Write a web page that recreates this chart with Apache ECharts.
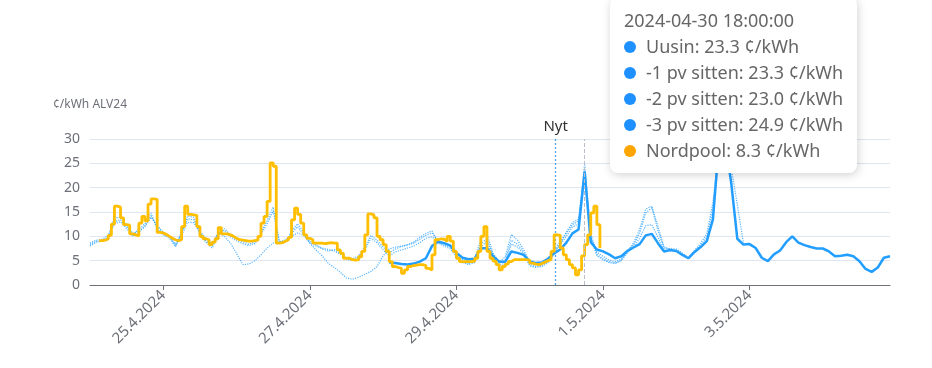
<!DOCTYPE html>
<html>
<head>
<meta charset="utf-8">
<script src="https://cdn.jsdelivr.net/npm/echarts@6/dist/echarts.min.js"></script>
<style>
html,body{margin:0;padding:0;background:#fff;}
#main{width:932px;height:368px;position:relative;}
</style>
</head>
<body>
<div id="main"></div>
<script>
// ---- data (hours counted from 24.4.2024 00:00) ----
const baseDate = [2024, 3, 24];
const yAxisName = '¢/kWh ALV24';
const nowHour = 152.5;
const tooltipHour = 162;
const axisMaxHour = 262;

const seriesNames = ['Uusin', '-1 pv sitten', '-2 pv sitten', '-3 pv sitten', 'Nordpool'];

// Nordpool hourly, from hour 3
const nordpoolStart = 3;
const nordpool = [
  9.1,9.2,9.5,10.2,12.5,16.2,16.0,13.8,12.4,12.3,
  10.5,10.3,10.1,12.7,14.1,13.2,16.6,17.7,17.6,10.8,
  10.7,10.4,10.0,9.6,9.3,9.1,9.3,12.0,16.2,14.5,
  14.4,14.3,12.0,10.0,9.5,9.3,8.3,8.8,9.5,11.8,
  10.5,10.5,10.3,10.0,9.6,9.3,9.2,9.1,9.0,9.0,
  9.1,9.2,10.0,12.7,14.1,17.2,25.1,24.4,8.6,8.7,
  9.0,9.3,9.8,13.4,15.8,14.5,12.7,10.3,9.6,9.3,
  8.6,8.6,8.6,8.5,8.6,8.7,8.6,8.6,7.2,6.5,
  5.5,5.5,5.2,5.1,5.2,5.8,6.9,10.3,14.6,14.4,
  13.8,10.0,9.3,8.3,6.9,4.8,3.8,3.6,3.4,2.4,
  3.1,3.8,4.0,4.1,4.2,4.2,4.0,3.4,3.1,6.2,
  9.3,9.5,9.4,9.0,10.0,9.0,6.9,5.5,4.8,4.8,
  4.8,4.8,4.9,5.5,6.9,10.0,12.0,6.9,5.5,4.9,
  4.2,3.1,3.8,4.3,4.8,5.2,5.2,5.2,5.2,5.2,
  5.1,4.5,4.3,4.2,4.4,4.7,5.0,5.2,6.9,10.3,
  10.2,7.6,6.2,5.2,4.2,3.5,2.1,3.1,6.0,8.3,
  10.3,14.8,16.2,12.4,7.6
];

// Forecasts, every 2 hours
const uusinStart = 98;
const uusin = [
  4.6,4.5,4.3,4.2,4.4,4.8,5.5,8.0,8.9,8.6,
  8.1,6.6,5.6,5.3,5.4,7.5,7.6,5.9,4.8,4.8,
  6.9,6.6,6.2,4.9,4.5,4.6,5.4,6.5,7.3,8.7,
  10.6,11.4,23.3,8.8,7.3,6.9,6.3,5.5,5.9,7.0,
  7.7,8.4,10.2,10.5,8.6,6.9,7.2,7.0,6.2,5.5,
  6.8,7.8,9.0,13.5,29.0,29.5,21.0,9.5,8.3,8.4,
  7.6,5.6,4.9,6.3,7.1,8.8,10.0,8.7,8.2,7.8,
  7.5,7.5,6.9,5.9,6.0,6.2,5.9,4.9,3.3,2.7,
  3.6,5.6,5.9
];
const pv1Start = 0;
const pv1 = [
  8.3,9.0,9.1,9.8,13.0,13.4,12.0,10.3,11.5,12.6,
  14.8,11.5,10.3,9.6,7.9,11.0,13.6,13.4,10.3,8.8,
  7.6,10.2,11.6,10.3,9.5,8.9,8.4,8.8,10.8,13.2,
  16.0,9.0,8.8,11.0,12.6,10.8,9.0,8.3,7.4,7.0,
  7.3,6.6,5.6,5.4,6.0,7.8,10.2,9.2,7.8,6.6,
  7.4,7.9,8.2,8.6,9.4,10.2,10.7,9.2,8.6,8.2,
  6.5,5.3,4.9,5.6,9.3,10.6,6.5,4.7,5.8,10.4,
  9.2,7.3,4.6,4.1,4.4,5.4,7.3,8.8,10.9,12.8,
  13.6,23.3,10.5,6.8,5.9,5.1,4.8,5.3,7.0,8.3,
  10.6,14.8,15.9,11.2,7.6,7.5,7.4,6.6,5.6,7.1,
  8.6,10.5,17.0,28.0,29.0,24.0,16.5,8.6
];
const pv2Start = 0;
const pv2 = [
  8.6,9.2,9.4,10.2,13.8,13.9,12.4,10.6,11.0,12.2,
  14.2,12.0,10.6,9.9,8.4,10.6,14.2,13.9,10.8,9.1,
  8.0,10.6,11.2,9.9,9.1,8.5,8.1,8.5,10.4,12.6,
  15.2,8.7,9.0,10.6,12.0,10.3,8.7,8.0,7.6,7.3,
  7.0,6.3,5.3,5.0,5.8,7.2,9.6,8.7,7.2,6.0,
  6.8,7.2,7.6,8.0,8.7,9.6,9.9,8.8,8.2,7.8,
  6.1,4.9,4.4,5.0,8.4,9.6,6.0,4.2,5.2,9.2,
  8.4,6.8,4.2,3.8,4.0,5.0,6.8,8.2,10.0,11.9,
  12.6,23.0,9.6,6.3,5.4,4.8,4.5,5.0,6.6,7.9,
  9.6,12.2,12.4,9.8,7.2,7.0,7.0,6.3,5.3,6.8,
  8.2,9.8,15.5,27.0
];
const pv3Start = 0;
const pv3 = [
  8.0,8.8,9.0,9.6,12.6,13.0,11.6,10.0,10.8,12.0,
  13.9,12.2,10.9,10.1,8.0,10.2,12.9,12.8,11.0,9.6,
  8.4,10.9,10.0,8.6,6.5,4.2,4.3,5.0,6.2,7.6,
  8.6,8.8,9.3,10.0,10.7,10.2,8.6,7.2,6.0,4.5,
  3.6,2.6,1.4,1.2,1.6,2.2,2.8,3.8,6.0,7.4,
  7.8,8.0,8.3,8.8,9.8,10.6,11.1,8.6,8.0,7.4,
  5.8,4.6,4.2,4.6,7.8,9.0,5.6,3.9,4.6,8.4,
  7.8,6.4,3.9,3.6,3.8,4.6,6.4,8.6,10.6,12.4,
  13.2,24.9,9.8,6.0,5.2,4.6,4.4,5.1,6.9,8.6,
  11.4,15.6,16.2,12.0,7.8,7.3
];

// ---- build ----
const HOUR = 3600000;
const T0 = new Date(baseDate[0], baseDate[1], baseDate[2], 0, 0, 0).getTime();
function toSeries(start, step, arr) {
  return arr.map((v, i) => [T0 + (start + i * step) * HOUR, v]);
}
const BLUE = '#1E90FF';
const ORANGE = '#FFA500';
const ORANGE_LINE = '#FFAD00';
const colorOf = {'Uusin': BLUE, '-1 pv sitten': BLUE, '-2 pv sitten': BLUE, '-3 pv sitten': BLUE, 'Nordpool': ORANGE};
const FONT = 'Noto Sans';

function pad(n){ return (n < 10 ? '0' : '') + n; }

const dottedStyle = {color: BLUE, width: 1.2, type: 'dotted', opacity: 0.75};

const chart = echarts.init(document.getElementById('main'), null, {renderer: 'canvas'});
chart.setOption({
  animation: false,
  textStyle: {fontFamily: FONT},
  grid: {left: 90, right: 42, top: 139, bottom: 83},
  tooltip: {
    trigger: 'axis',
    alwaysShowContent: true,
    transitionDuration: 0,
    backgroundColor: '#fff',
    borderWidth: 0,
    padding: [10, 14, 10, 14],
    extraCssText: 'border-radius:8px;box-shadow:rgba(0,0,0,0.18) 1px 2px 10px;',
    textStyle: {fontFamily: FONT, fontSize: 18, color: '#666'},
    axisPointer: {type: 'line', lineStyle: {color: '#B9BEC9', width: 1, type: 'dashed'}},
    position: function () { return [610, -3]; },
    formatter: function (params) {
      const d = new Date(params[0].axisValue);
      const title = d.getFullYear() + '-' + pad(d.getMonth() + 1) + '-' + pad(d.getDate()) + ' ' +
        pad(d.getHours()) + ':' + pad(d.getMinutes()) + ':' + pad(d.getSeconds());
      let html = '<div style="line-height:26px;white-space:nowrap;color:#666;font-size:18px;font-family:\'Noto Sans\'">' + title + '</div>';
      params.forEach(p => {
        html += '<div style="line-height:26px;white-space:nowrap;color:#666;font-size:18px;font-family:\'Noto Sans\'">' +
          '<span style="display:inline-block;width:12px;height:12px;border-radius:6px;background:' + colorOf[p.seriesName] +
          ';margin-right:10px;vertical-align:0px"></span>' + p.seriesName + ': ' + p.value[1].toFixed(1) + ' ¢/kWh</div>';
      });
      return html;
    }
  },
  xAxis: {
    type: 'time',
    min: T0,
    max: T0 + axisMaxHour * HOUR,
    splitNumber: 5,
    axisLine: {lineStyle: {color: '#6E7079'}},
    axisTick: {show: true, lineStyle: {color: '#6E7079'}},
    axisLabel: {
      rotate: 45,
      fontSize: 15,
      color: '#6E7079',
      fontFamily: FONT,
      hideOverlap: false,
      formatter: function (v) { const d = new Date(v); return d.getDate() + '.' + (d.getMonth() + 1) + '.' + d.getFullYear(); }
    },
    splitLine: {show: false}
  },
  yAxis: {
    type: 'value',
    min: 0, max: 30, interval: 5,
    name: yAxisName,
    nameGap: 28,
    nameTextStyle: {fontSize: 12, color: '#6E7079', fontFamily: FONT},
    axisLabel: {fontSize: 14, color: '#6E7079', fontFamily: FONT, margin: 10},
    splitLine: {lineStyle: {color: '#E0E6F1'}}
  },
  series: [
    {
      name: seriesNames[0], type: 'line', symbol: 'none', showSymbol: false,
      data: toSeries(uusinStart, 2, uusin),
      lineStyle: {color: BLUE, width: 2.5}, itemStyle: {color: BLUE}, z: 4,
      markLine: {
        silent: true, symbol: 'none',
        lineStyle: {color: '#4FA6EC', width: 1.3, type: [2, 2]},
        label: {formatter: 'Nyt', position: 'end', color: '#333', fontSize: 15, fontFamily: FONT},
        data: [{xAxis: T0 + nowHour * HOUR}]
      }
    },
    {name: seriesNames[1], type: 'line', symbol: 'none', showSymbol: false, data: toSeries(pv1Start, 2, pv1), lineStyle: dottedStyle, itemStyle: {color: BLUE}, z: 3},
    {name: seriesNames[2], type: 'line', symbol: 'none', showSymbol: false, data: toSeries(pv2Start, 2, pv2), lineStyle: dottedStyle, itemStyle: {color: BLUE}, z: 3},
    {name: seriesNames[3], type: 'line', symbol: 'none', showSymbol: false, data: toSeries(pv3Start, 2, pv3), lineStyle: dottedStyle, itemStyle: {color: BLUE}, z: 3},
    {
      name: seriesNames[4], type: 'line', symbol: 'none', showSymbol: false, step: 'end',
      data: toSeries(nordpoolStart, 1, nordpool),
      lineStyle: {color: ORANGE_LINE, width: 2.8}, itemStyle: {color: ORANGE}, z: 5
    }
  ]
});

const px = chart.convertToPixel({gridIndex: 0}, [T0 + tooltipHour * HOUR, 10]);
chart.dispatchAction({type: 'showTip', x: px[0], y: px[1]});
</script>
</body>
</html>
